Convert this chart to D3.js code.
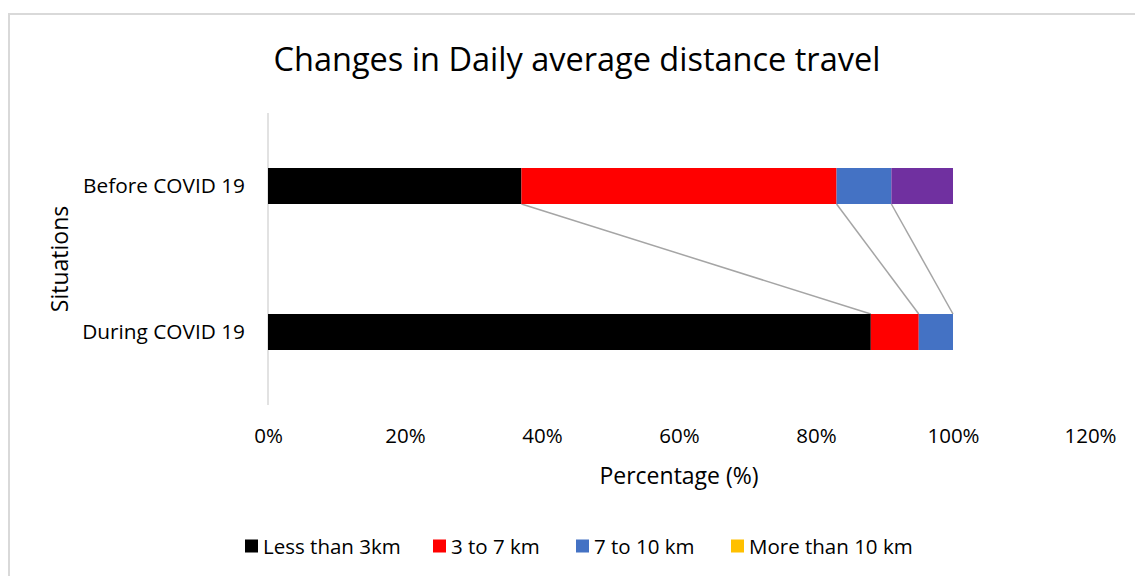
<!DOCTYPE html>
<meta charset="utf-8">
<html>
<head>
<script src="https://d3js.org/d3.v7.min.js"></script>
<style>
  body { margin: 0; background: #fff; }
  text { font-family: "Open Sans", sans-serif; fill: #000; }
</style>
</head>
<body>
<svg id="chart" width="1135" height="576"></svg>
</body>
</html>
<script>

// categories (top to bottom) and the stacked series, in percent
var situations = ["Before COVID 19", "During COVID 19"];
var seriesNames = ["Less than 3km", "3 to 7 km", "7 to 10 km", "More than 10 km"];
var lessThan3 = [37, 88];
var from3to7 = [46, 7];
var from7to10 = [8, 5];
var moreThan10 = [9, 0];
var xTicks = [0, 20, 40, 60, 80, 100, 120];

// bar colours; the legend swatch for the last series is gold in the original
var barColors = ["#000000", "#ff0000", "#4472c4", "#7030a0"];
var legendColors = ["#000000", "#ff0000", "#4472c4", "#ffc000"];

var svg = d3.select("#chart");

// outer frame (runs off the right and bottom of the image)
svg.append("rect")
  .attr("x", 9).attr("y", 14)
  .attr("width", 1200).attr("height", 600)
  .attr("fill", "none")
  .attr("stroke", "#d9d9d9")
  .attr("stroke-width", 2);

var rows = situations.map(function (s, i) {
  return {
    situation: s,
    "Less than 3km": lessThan3[i],
    "3 to 7 km": from3to7[i],
    "7 to 10 km": from7to10[i],
    "More than 10 km": moreThan10[i]
  };
});

var stacked = d3.stack().keys(seriesNames)(rows);

// scales
var x = d3.scaleLinear().domain([0, 120]).range([268, 1090]);
var y = d3.scaleBand()
  .domain(situations)
  .range([113, 405])
  .paddingInner(0.7534)
  .paddingOuter(0.3767);

// title
svg.append("text")
  .attr("x", 577).attr("y", 71)
  .attr("text-anchor", "middle")
  .style("font-size", "32.5px")
  .text("Changes in Daily average distance travel");

// vertical category axis line
svg.append("line")
  .attr("x1", x(0)).attr("x2", x(0))
  .attr("y1", 113).attr("y2", 405)
  .attr("stroke", "#d9d9d9")
  .attr("stroke-width", 1.5);

// series lines between the ends of each segment
var lineSeries = stacked.slice(0, 3);
svg.append("g")
  .selectAll("line")
  .data(lineSeries)
  .enter()
  .append("line")
    .attr("x1", function (d) { return x(d[0][1]); })
    .attr("y1", y(situations[0]) + y.bandwidth())
    .attr("x2", function (d) { return x(d[1][1]); })
    .attr("y2", y(situations[1]))
    .attr("stroke", "#a5a5a5")
    .attr("stroke-width", 1.5);

// stacked bars
svg.append("g")
  .selectAll("g")
  .data(stacked)
  .enter()
  .append("g")
    .attr("fill", function (d, i) { return barColors[i]; })
  .selectAll("rect")
  .data(function (d) { return d; })
  .enter()
  .append("rect")
    .attr("x", function (d) { return x(d[0]); })
    .attr("y", function (d) { return y(d.data.situation); })
    .attr("width", function (d) { return x(d[1]) - x(d[0]); })
    .attr("height", y.bandwidth());

// x axis labels
var xAxis = d3.axisBottom(x)
  .tickValues(xTicks)
  .tickSize(0)
  .tickPadding(0)
  .tickFormat(function (d) { return d + "%"; });

var gx = svg.append("g")
  .attr("transform", "translate(0,428)")
  .call(xAxis);
gx.select(".domain").remove();
gx.selectAll("text")
  .style("font-family", "'Open Sans', sans-serif")
  .style("font-size", "20.5px")
  .attr("fill", "#000");

// y axis labels
var yAxis = d3.axisLeft(y).tickSize(0).tickPadding(23);
var gy = svg.append("g")
  .attr("transform", "translate(" + x(0) + ",0)")
  .call(yAxis);
gy.select(".domain").remove();
gy.selectAll("text")
  .style("font-family", "'Open Sans', sans-serif")
  .style("font-size", "20.8px")
  .attr("fill", "#000");

// axis titles
svg.append("text")
  .attr("x", 679).attr("y", 484)
  .attr("text-anchor", "middle")
  .style("font-size", "23px")
  .text("Percentage (%)");

svg.append("text")
  .attr("transform", "translate(68,259) rotate(-90)")
  .attr("text-anchor", "middle")
  .style("font-size", "23px")
  .text("Situations");

// legend
var legendX = [245, 433, 576, 731];
var legend = svg.append("g")
  .selectAll("g")
  .data(seriesNames)
  .enter()
  .append("g")
    .attr("transform", function (d, i) { return "translate(" + legendX[i] + ",546)"; });

legend.append("rect")
  .attr("x", 0).attr("y", -6.5)
  .attr("width", 13).attr("height", 13)
  .attr("fill", function (d, i) { return legendColors[i]; });

legend.append("text")
  .attr("x", 18).attr("y", 7.5)
  .style("font-size", "20.5px")
  .text(function (d) { return d; });

</script>
